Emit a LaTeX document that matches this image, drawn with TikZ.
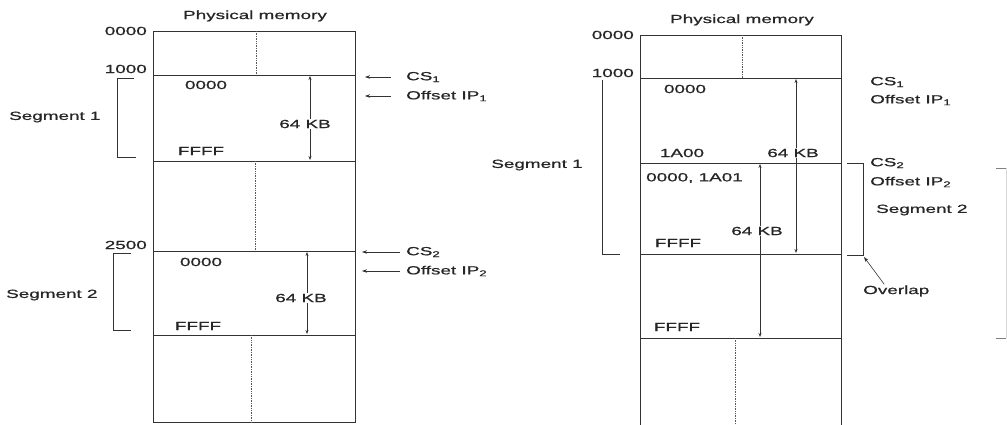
\documentclass[tikz,border=0pt]{standalone}
\usepackage{fontspec}
\newfontfamily\memfont{Liberation Sans}[FakeStretch=1.6, FakeBold=0.8]
\usetikzlibrary{arrows.meta}
\tikzset{
  memline/.style={draw=black!80, line width=0.8pt},
  memdivider/.style={draw=black!65, line width=0.7pt, densely dotted},
  memlabel/.style={font=\memfont\fontsize{11.8}{13}\selectfont, text=black!85,
                   inner sep=1pt},
  memaddr/.style={memlabel, anchor=east},
  memtag/.style={memlabel, anchor=west},
  memsize/.style={memline, line width=0.6pt,
                  {Stealth[length=4pt,width=3pt]}-{Stealth[length=4pt,width=3pt]}},
  mempointer/.style={memline, line width=0.6pt, -{Stealth[length=5pt,width=3.5pt]}},
  membracket/.style={memline, line width=0.6pt}
}

\begin{document}
\begin{tikzpicture}[x=1pt, y=-1pt]
  \useasboundingbox (0,0) rectangle (1007,425);
  % Left: two segments that lie apart in physical memory.
  \draw[memline] (153,31) rectangle (355,422);
  \foreach \y in {75,161,251,335} {
    \draw[memline] (153,\y) -- (355,\y);
  }
  \draw[memdivider] (256,31) -- (256,75);
  \draw[memdivider] (255,161) -- (255,251);
  \draw[memdivider] (251,335) -- (251,422);
  \node[memlabel] (lhead) at (255,16) {Physical memory};
  \node[memaddr] (l0000) at (148,31) {0000};
  \node[memaddr] (l1000) at (148,69) {1000};
  \node[memaddr] (l2500) at (148,245) {2500};
  \node[memtag] (lseg1) at (8,117) {Segment 1};
  \node[memtag] (lseg2) at (5,295) {Segment 2};
  \draw[membracket] (134,78) -| (117,157) -- (136,157);
  \draw[membracket] (131,253) -| (113,330) -- (131,330);
  \node[memlabel] (l1lo) at (206,85) {0000};
  \node[memlabel] (l1hi) at (201,151) {FFFF};
  \node[memlabel] (l2lo) at (201,262) {0000};
  \node[memlabel] (l2hi) at (198,326) {FFFF};
  \coordinate (l1top) at (310,76);
  \coordinate (l1bot) at (310,160);
  \coordinate (l2top) at (307,252);
  \coordinate (l2bot) at (307,334);
  \draw[memsize] (l1top) -- (l1bot);
  \draw[memsize] (l2top) -- (l2bot);
  \node[memlabel, fill=white] (l1size) at (305,124) {64 KB};
  \node[memlabel, fill=white] (l2size) at (301,298) {64 KB};
  \node[memtag] (lcs1) at (405,77) {CS\textsubscript{1}};
  \node[memtag] (lip1) at (405,96) {Offset IP\textsubscript{1}};
  \node[memtag] (lcs2) at (405,252) {CS\textsubscript{2}};
  \node[memtag] (lip2) at (405,271) {Offset IP\textsubscript{2}};
  \coordinate (lcs1p) at (365,77);
  \coordinate (lip1p) at (365,96);
  \coordinate (lcs2p) at (362,252);
  \coordinate (lip2p) at (362,271);
  \draw[mempointer, shorten <=14pt] (lcs1.west) -- (lcs1p);
  \draw[mempointer, shorten <=14pt] (lip1.west) -- (lip1p);
  \draw[mempointer, shorten <=5pt] (lcs2.west) -- (lcs2p);
  \draw[mempointer, shorten <=5pt] (lip2.west) -- (lip2p);
  % Right: segment 2 starts inside segment 1, so the two overlap.
  \draw[memline] (640,425) -- (640,35) -- (841,35) -- (841,425);
  \foreach \y in {78,163,254,338} {
    \draw[memline] (640,\y) -- (841,\y);
  }
  \draw[memdivider] (742,35) -- (742,78);
  \draw[memdivider] (735,338) -- (735,425);
  \node[memlabel] (rhead) at (742,20) {Physical memory};
  \node[memaddr] (r0000) at (635,35) {0000};
  \node[memaddr] (r1000) at (635,73) {1000};
  \node[memlabel] (rseg1) at (537,165) {Segment 1};
  \draw[membracket] (602,80) -- (602,254) -- (620,254);
  \draw[membracket] (847,163) -| (863,255) -- (847,255);
  \node[memlabel] (r1lo) at (685,89) {0000};
  \node[memlabel] (r1mid) at (682,153) {1A00};
  \node[memtag] (r2lo) at (645,178) {0000, 1A01};
  \node[memlabel] (r1hi) at (678,243) {FFFF};
  \node[memlabel] (r2hi) at (677,327) {FFFF};
  \coordinate (r1top) at (796,79);
  \coordinate (r1bot) at (796,253);
  \coordinate (r2top) at (760,164);
  \coordinate (r2bot) at (760,337);
  \draw[memsize] (r1top) -- (r1bot);
  \draw[memsize] (r2top) -- (r2bot);
  \node[memlabel, fill=white] (r1size) at (793,153) {64 KB};
  \node[memlabel, fill=white] (r2size) at (757,231) {64 KB};
  \node[memtag] (rcs1) at (869,82) {CS\textsubscript{1}};
  \node[memtag] (rip1) at (869,100) {Offset IP\textsubscript{1}};
  \node[memtag] (rcs2) at (869,163) {CS\textsubscript{2}};
  \node[memtag] (rip2) at (869,182) {Offset IP\textsubscript{2}};
  \node[memtag] (rseg2) at (875,210) {Segment 2};
  \node[memtag] (rover) at (862,291) {Overlap};
  \coordinate (rovtip) at (864,257);
  \draw[mempointer] ([xshift=-12pt]rover.north) -- (rovtip);
  % The next bracket is cut by the edge of the page.
  \draw[membracket, draw=black!50] (996,168) -- (1006,168);
  \draw[membracket, draw=black!50] (996,338) -- (1006,338);
  \draw[membracket, draw=black!15] (1006,168) -- (1006,338);
\end{tikzpicture}
\end{document}
